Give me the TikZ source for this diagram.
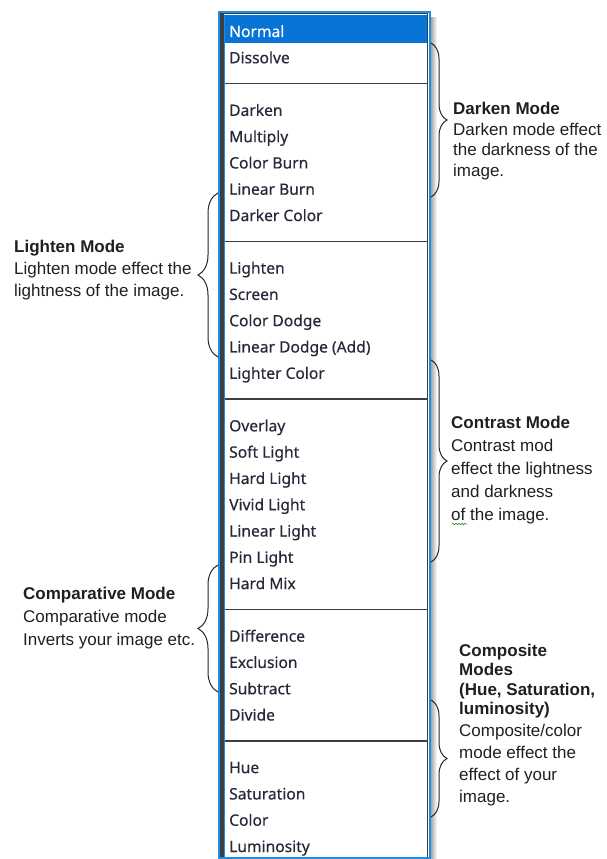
\documentclass[tikz,border=0pt]{standalone}
\usepackage{fontspec}
\setmainfont{Liberation Sans}
\newfontfamily\listfont[FakeBold=0.4]{Noto Sans}
\usetikzlibrary{decorations.pathreplacing,decorations.pathmorphing}
\definecolor{winblue}{RGB}{28,142,228}
\definecolor{selblue}{RGB}{8,116,214}
\definecolor{rulegray}{RGB}{62,62,62}
\definecolor{itemtext}{RGB}{40,40,58}
\begin{document}
\begin{tikzpicture}[x=1pt, y=-1pt,
    item/.style={anchor=west, inner sep=0pt, text height=11pt, text depth=3pt,
      font=\listfont\fontsize{15.6}{18}\selectfont, text=itemtext},
    sep/.style={rulegray, line width=1.6pt},
    brc/.style={decorate, decoration={brace, amplitude=16pt}, line width=1pt, black!85},
    note/.style={anchor=north west, align=left, inner sep=0pt,
      font=\fontsize{17}{22}\selectfont, text=black!88}]
    \useasboundingbox (0,0) rectangle (607,859);
    % the blend mode list
    \shade[left color=black!40, right color=white] (430,18) rectangle (437,859);
    \fill[white] (219,13) rectangle (430,858);
    \fill[selblue] (225,15) rectangle (427,43);
    \fill[rulegray] (220,13) rectangle (223.5,858);
    \draw[rulegray, line width=0.8pt] (220,13.8) -- (427.5,13.8) -- (427.5,858);
    \draw[winblue, line width=1.2pt] (224.6,15) -- (224.6,858);
    \draw[winblue, line width=2pt] (218.8,12) rectangle (429.8,857.5);
    \node[item, text=white] (row0) at (229,33) {Normal};
    \foreach \lbl/\r in {Dissolve/1, Darken/3, Multiply/4, Color Burn/5, Linear Burn/6,
        Darker Color/7, Lighten/9, Screen/10, Color Dodge/11, Linear Dodge (Add)/12,
        Lighter Color/13, Overlay/15, Soft Light/16, Hard Light/17, Vivid Light/18,
        Linear Light/19, Pin Light/20, Hard Mix/21, Difference/23, Exclusion/24,
        Subtract/25, Divide/26, Hue/28, Saturation/29, Color/30, Luminosity/31}
      \node[item] (row\r) at (229, 33+26.29*\r) {\lbl};
    \foreach \r in {2,8,14,22,27}
      \draw[sep] (225, 31+26.29*\r) -- (427, 31+26.29*\r);
    % braces
    \coordinate (dk1) at (431,43);
    \coordinate (dk2) at (431,197);
    \coordinate (lt1) at (218,357);
    \coordinate (lt2) at (218,193);
    \coordinate (ct1) at (431,360);
    \coordinate (ct2) at (431,562);
    \coordinate (cm1) at (218,692);
    \coordinate (cm2) at (218,565);
    \coordinate (cp1) at (431,700);
    \coordinate (cp2) at (431,817);
    \draw[brc] (dk1) -- (dk2);
    \draw[brc, decoration={amplitude=20pt}] (lt1) -- (lt2);
    \draw[brc] (ct1) -- (ct2);
    \draw[brc, decoration={amplitude=20pt}] (cm1) -- (cm2);
    \draw[brc] (cp1) -- (cp2);
    % notes
    \node[note, font=\fontsize{17}{20.7}\selectfont] (darken) at (453,102)
      {\textbf{Darken Mode}\\Darken mode effect\\the darkness of the\\image.};
    \node[note] (lighten) at (14,239.5)
      {\textbf{Lighten Mode}\\Lighten mode effect the\\lightness of the image.};
    \node[note, font=\fontsize{17}{23}\selectfont] (contrast) at (451,415.5)
      {\textbf{Contrast Mode}\\Contrast mod\\effect the lightness\\and darkness\\of the image.};
    \node[note, font=\fontsize{17}{23}\selectfont] (comparative) at (23,586.5)
      {\textbf{Comparative Mode}\\Comparative mode\\Inverts your image etc.};
    \node[note] (composite) at (459,643.5)
      {\textbf{Composite}\\[-2.5pt]\textbf{Modes}\\[-2.5pt]\textbf{(Hue, Saturation,}\\[-2.5pt]\textbf{luminosity)}\\Composite/color\\mode effect the\\effect of your\\image.};
    \draw[green!55!black, line width=0.5pt, decorate,
      decoration={snake, amplitude=0.8pt, segment length=3pt}] (452,524) -- (467,524);
  \end{tikzpicture}
\end{document}
